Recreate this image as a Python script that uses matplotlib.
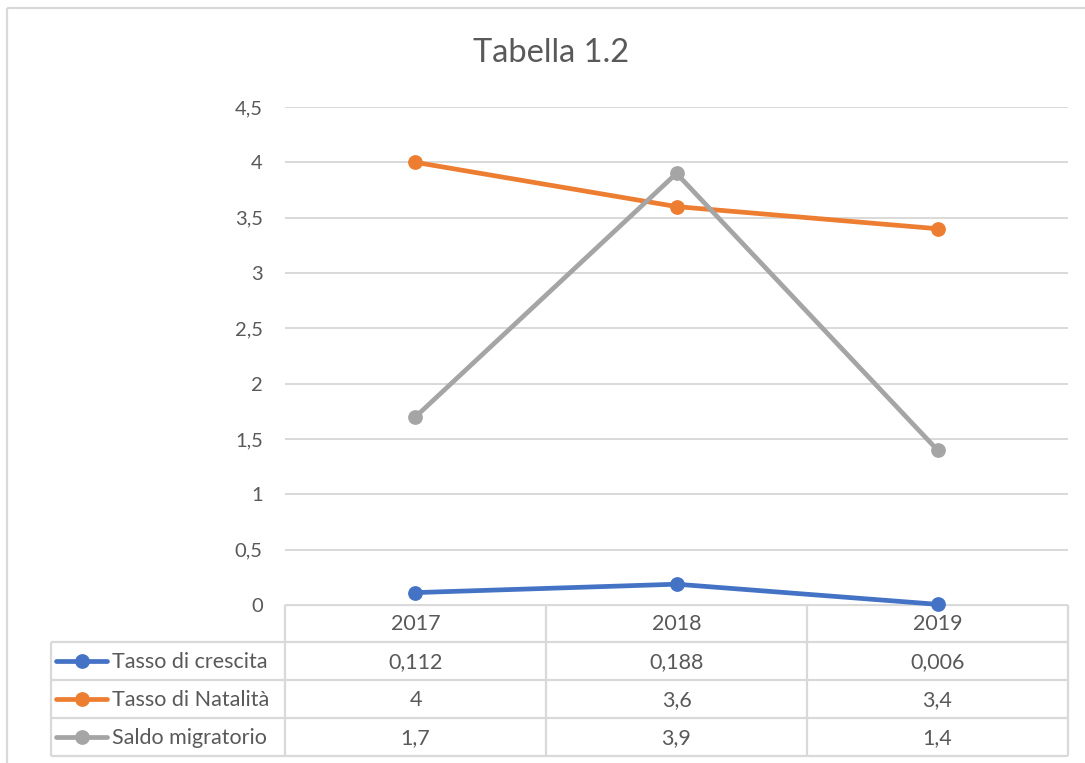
import matplotlib
matplotlib.use("Agg")
import matplotlib.pyplot as plt

# ---- data ----
years = ["2017", "2018", "2019"]
series_names = ["Tasso di crescita", "Tasso di Natalità", "Saldo migratorio"]
crescita = [0.112, 0.188, 0.006]
natalita = [4, 3.6, 3.4]
migratorio = [1.7, 3.9, 1.4]
y_ticks = [0, 0.5, 1, 1.5, 2, 2.5, 3, 3.5, 4, 4.5]
title = "Tabella 1.2"

colors = ["#4472C4", "#ED7D31", "#A5A5A5"]
text_color = "#595959"
grid_color = "#D9D9D9"
FONT = ["Lato", "DejaVu Sans"]
plt.rcParams["font.family"] = FONT

W, H = 1085, 763
fig = plt.figure(figsize=(W / 100, H / 100), dpi=100)

# layout in pixels
px_left, px_right = 285, 1068
px_top, px_bottom = 107, 605
tbl_left = 51
row_edges = [605, 642, 680, 718, 756]

ax = fig.add_axes([px_left / W, 1 - px_bottom / H,
                   (px_right - px_left) / W, (px_bottom - px_top) / H])
ax.set_xlim(-0.5, len(years) - 0.5)
ax.set_ylim(0, 4.5)
ax.set_yticks(y_ticks)
ax.set_yticklabels([f"{v:g}".replace(".", ",") for v in y_ticks],
                   color=text_color, fontsize=14.5)
ax.tick_params(axis="y", length=0, pad=16)
ax.set_xticks([])
for s in ax.spines.values():
    s.set_visible(False)
ax.grid(axis="y", color=grid_color, linewidth=1.4)
ax.set_axisbelow(True)

all_series = [crescita, natalita, migratorio]
x = list(range(len(years)))
for vals, c in zip(all_series, colors):
    ax.plot(x, vals, color=c, linewidth=3.4, marker="o", markersize=9.6,
            clip_on=False, zorder=3, solid_capstyle="round")

# ---- overlay in pixel coords for table and frame ----
ov = fig.add_axes([0, 0, 1, 1], zorder=-1)
ov.set_xlim(0, W)
ov.set_ylim(H, 0)
ov.axis("off")
ov.patch.set_alpha(0)

lc = dict(color=grid_color, linewidth=1.6, solid_capstyle="butt")
# chart frame
ov.plot([7, 7], [8, H], **lc)
ov.plot([7, W], [8, 8], **lc)

# table lines
ov.plot([px_left, px_right], [row_edges[0]] * 2, **lc)
for yy in row_edges[1:]:
    ov.plot([tbl_left, px_right], [yy, yy], **lc)
ov.plot([tbl_left, tbl_left], [row_edges[1], row_edges[-1]], **lc)
col_w = (px_right - px_left) / len(years)
for i in range(len(years) + 1):
    xx = px_left + i * col_w
    ov.plot([xx, xx], [row_edges[0], row_edges[-1]], **lc)

fs_tbl = 15.5
for i, yr in enumerate(years):
    cx = px_left + (i + 0.5) * col_w
    ov.text(cx, (row_edges[0] + row_edges[1]) / 2 + 1, yr, ha="center", va="center",
            color=text_color, fontsize=fs_tbl)

def fmt(v):
    return f"{v:g}".replace(".", ",")

for r, (name, vals, c) in enumerate(zip(series_names, all_series, colors)):
    cy = (row_edges[r + 1] + row_edges[r + 2]) / 2 + 1
    ov.plot([56, 107], [cy - 1, cy - 1], color=c, linewidth=3.4, solid_capstyle="round")
    ov.plot([81.5], [cy - 1], marker="o", color=c, markersize=9.6)
    ov.text(112, cy, name, ha="left", va="center", color=text_color, fontsize=fs_tbl)
    for i, v in enumerate(vals):
        cx = px_left + (i + 0.5) * col_w
        ov.text(cx, cy, fmt(v), ha="center", va="center",
                color=text_color, fontsize=fs_tbl)

fig.text(551 / W, 1 - 53 / H, title, ha="center", va="center",
         color=text_color, fontsize=23.5)

fig.savefig("out.png", dpi=100, facecolor="white")
